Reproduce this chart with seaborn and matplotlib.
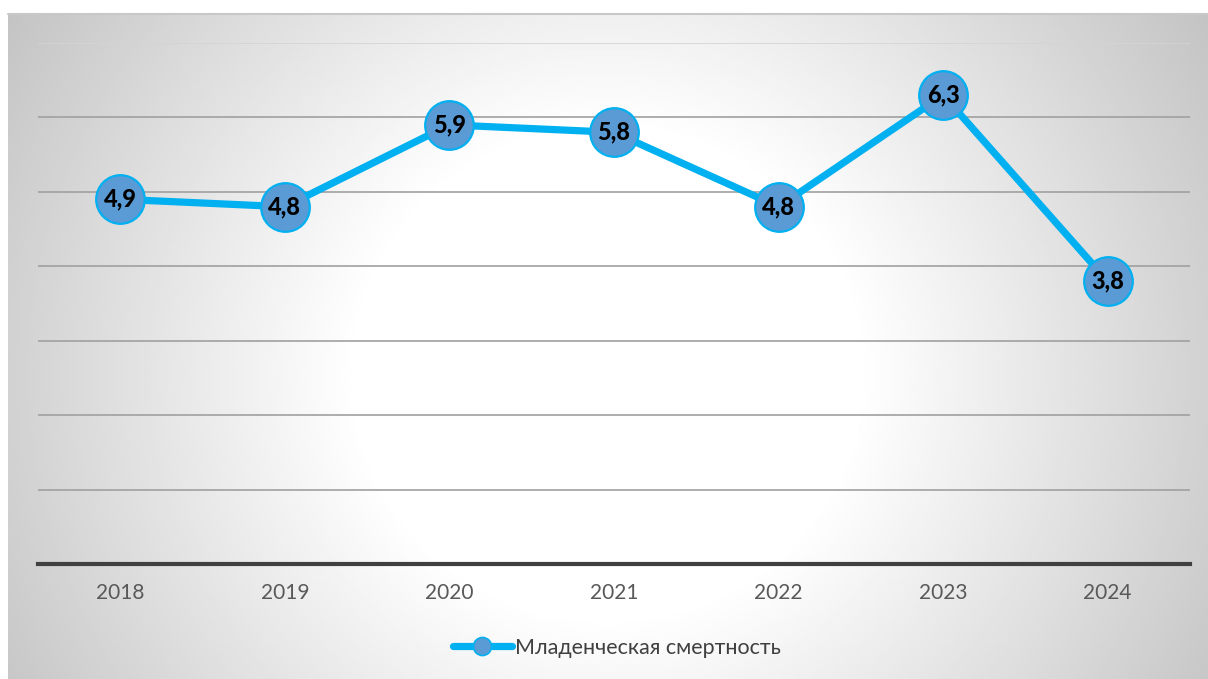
import numpy as np
import pandas as pd
import matplotlib
matplotlib.use("Agg")
import matplotlib.pyplot as plt
import seaborn as sns
from matplotlib.lines import Line2D

years = ["2018", "2019", "2020", "2021", "2022", "2023", "2024"]
mortality = [4.9, 4.8, 5.9, 5.8, 4.8, 6.3, 3.8]
value_labels = ["4,9", "4,8", "5,9", "5,8", "4,8", "6,3", "3,8"]
series_name = "Младенческая смертность"

sns.set_theme(style="white")
plt.rcParams["font.family"] = ["Lato", "Open Sans", "DejaVu Sans"]

W, H, DPI = 1208, 679, 100
fig = plt.figure(figsize=(W / DPI, H / DPI), dpi=DPI)
fig.patch.set_facecolor("white")

# Chart-area panel with a soft radial gradient (white centre, grey edges)
px0, py0, px1, py1 = 8, 14, 1208, 679
bg = fig.add_axes([px0 / W, 1 - py1 / H, (px1 - px0) / W, (py1 - py0) / H])
gx, gy = np.meshgrid(np.linspace(0, px1 - px0, 400), np.linspace(0, py1 - py0, 240))
cx, cy = 600, 360
d = np.sqrt(((gx - cx) / 720) ** 2 + ((gy - cy) / 700) ** 2)
shade = 1 - 0.24 * np.clip((d - 0.35) / 0.65, 0, 1)
bg.imshow(shade, cmap="gray", vmin=0, vmax=1, aspect="auto",
          extent=[0, 1, 0, 1], origin="upper", interpolation="bilinear")
bg.set_axis_off()
bg.plot([0, 1], [1, 1], color="#c8c8c8", lw=1.5, transform=bg.transAxes, clip_on=False)

# Plot area
ax = fig.add_axes([38 / W, 1 - 564 / H, (1190 - 38) / W, (564 - 43) / H])
ax.patch.set_alpha(0)

df = pd.DataFrame({"year": years, "value": mortality})
df["pos"] = np.arange(len(years))

sns.lineplot(data=df, x="pos", y="value", ax=ax, color="#00b0f0", lw=5.2,
             marker="o", markersize=35, markerfacecolor="#5b9bd5",
             markeredgecolor="#00b0f0", markeredgewidth=1.6,
             zorder=3, legend=False)

for xp, v, lab in zip(df["pos"], df["value"], value_labels):
    ax.text(xp, v, lab, ha="center", va="center", fontsize=17,
            fontweight="black", color="black", zorder=5)

ax.set_xlim(-0.5, len(years) - 0.5)
ax.set_ylim(0, 7)
ax.set_yticks(range(0, 8))
ax.set_yticklabels([])
ax.set_xticks(df["pos"])
ax.set_xticklabels(years, fontsize=15, color="#595959")
ax.tick_params(axis="x", length=0, pad=14)
ax.tick_params(axis="y", length=0)
ax.set_xlabel("")
ax.set_ylabel("")

for s in ["left", "right", "top"]:
    ax.spines[s].set_visible(False)
ax.spines["bottom"].set_color("#404040")
ax.spines["bottom"].set_linewidth(3)

ax.grid(axis="y", color="#a0a0a0", lw=1.2)
ax.set_axisbelow(True)
ax.yaxis.get_gridlines()[-1].set_color("#d4d4d4")

# Legend entry
handle = Line2D([0], [0], color="#00b0f0", lw=5.2, marker="o", markersize=13,
                markerfacecolor="#5b9bd5", markeredgecolor="#00b0f0",
                markeredgewidth=1.2)
fig.legend([handle], [series_name], loc="center", bbox_to_anchor=(617 / W, 1 - 648 / H),
           frameon=False, fontsize=15.5, handlelength=2.7, handletextpad=0.15,
           labelcolor="#404040")

fig.savefig("out.png", dpi=DPI)
